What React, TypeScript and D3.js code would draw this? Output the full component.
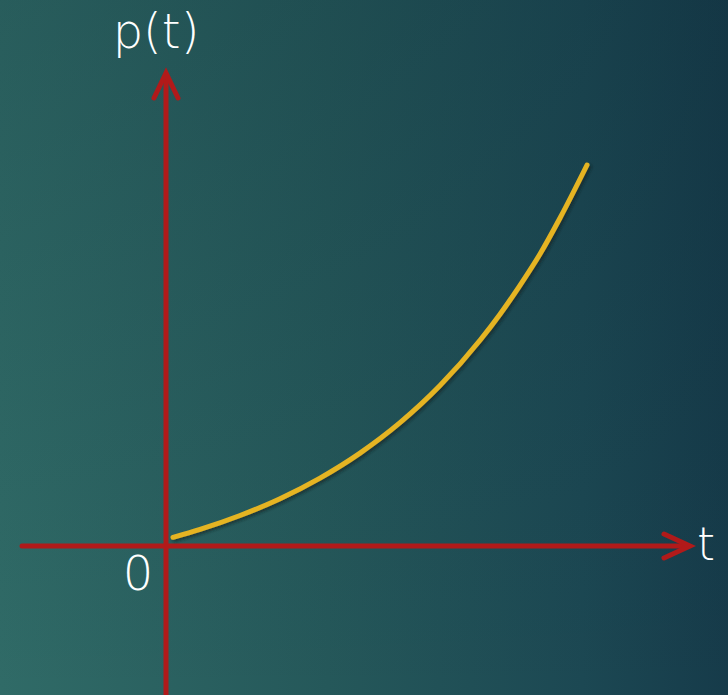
import React from "react";
import * as d3 from "d3";

// Growth curve p(t), sampled along t
const tValues = [0.14, 0.68, 1.48, 2.28, 3.08, 3.88, 4.68, 5.48, 6.28, 6.68, 7.08, 7.48, 7.88, 8.42];
const pValues = [0.174, 0.332, 0.61, 0.946, 1.358, 1.858, 2.466, 3.208, 4.114, 4.636, 5.214, 5.84, 6.56, 7.62];

// Axis extents in data units
const xAxisExtent = [-2.88, 10.48];
const yAxisExtent = [-2.98, 9.46];

const axisLabels = { x: "t", y: "p(t)", origin: "0" };

const W = 728;
const H = 695;

export default function App() {
  const x = d3.scaleLinear().domain([0, 10]).range([166, 666]);
  const y = d3.scaleLinear().domain([0, 10]).range([546, 46]);

  const points = tValues.map((t, i) => [t, pValues[i]] as [number, number]);
  const line = d3
    .line<[number, number]>()
    .x((d) => x(d[0]))
    .y((d) => y(d[1]))
    .curve(d3.curveMonotoneX);

  const red = "#b11a1a";
  const x0 = x(0);
  const y0 = y(0);
  const xEnd = x(xAxisExtent[1]);
  const yEnd = y(yAxisExtent[1]);

  return (
    <svg
      width={W}
      height={H}
      style={{ position: "absolute", left: 0, top: 0, display: "block" }}
      fontFamily="'Century Gothic', 'DejaVu Sans', sans-serif"
    >
      <defs>
        <linearGradient id="bgH" x1="0" y1="0" x2="1" y2="0">
          <stop offset="0%" stopColor="#306b67" />
          <stop offset="45%" stopColor="#25585a" />
          <stop offset="80%" stopColor="#1c4853" />
          <stop offset="100%" stopColor="#163b4a" />
        </linearGradient>
        <linearGradient id="bgV" x1="0" y1="0" x2="0" y2="1">
          <stop offset="0%" stopColor="#0a2530" stopOpacity="0.2" />
          <stop offset="100%" stopColor="#0a2530" stopOpacity="0" />
        </linearGradient>
        <filter id="shadow" x="-10%" y="-10%" width="120%" height="120%">
          <feDropShadow dx="2" dy="2" stdDeviation="1.5" floodColor="#0b1f22" floodOpacity="0.6" />
        </filter>
      </defs>
      <rect width={W} height={H} fill="url(#bgH)" />
      <rect width={W} height={H} fill="url(#bgV)" />

      {/* axes */}
      <g stroke={red} strokeWidth={5} strokeLinecap="round" fill="none">
        <line x1={x(xAxisExtent[0])} y1={y0} x2={xEnd - 2} y2={y0} />
        <polyline points={`${xEnd - 26},${y0 - 12} ${xEnd},${y0} ${xEnd - 26},${y0 + 12}`} strokeLinejoin="miter" />
        <line x1={x0} y1={y(yAxisExtent[0])} x2={x0} y2={yEnd + 2} strokeLinecap="butt" />
        <polyline points={`${x0 - 12},${yEnd + 25} ${x0},${yEnd} ${x0 + 12},${yEnd + 25}`} strokeLinejoin="miter" />
      </g>

      {/* curve */}
      <path
        d={line(points) || ""}
        fill="none"
        stroke="#e5b423"
        strokeWidth={5}
        strokeLinecap="round"
        filter="url(#shadow)"
      />

      {/* labels */}
      <g fill="#ffffff" fontWeight={300}>
        <text x={x0 - 10} y={48} textAnchor="middle" fontSize={48}>
          {axisLabels.y}
        </text>
        <text x={xEnd + 16} y={y0 + 14} textAnchor="middle" fontSize={46}>
          {axisLabels.x}
        </text>
        <text x={x0 - 28} y={y0 + 44} textAnchor="middle" fontSize={48}>
          {axisLabels.origin}
        </text>
      </g>
    </svg>
  );
}
